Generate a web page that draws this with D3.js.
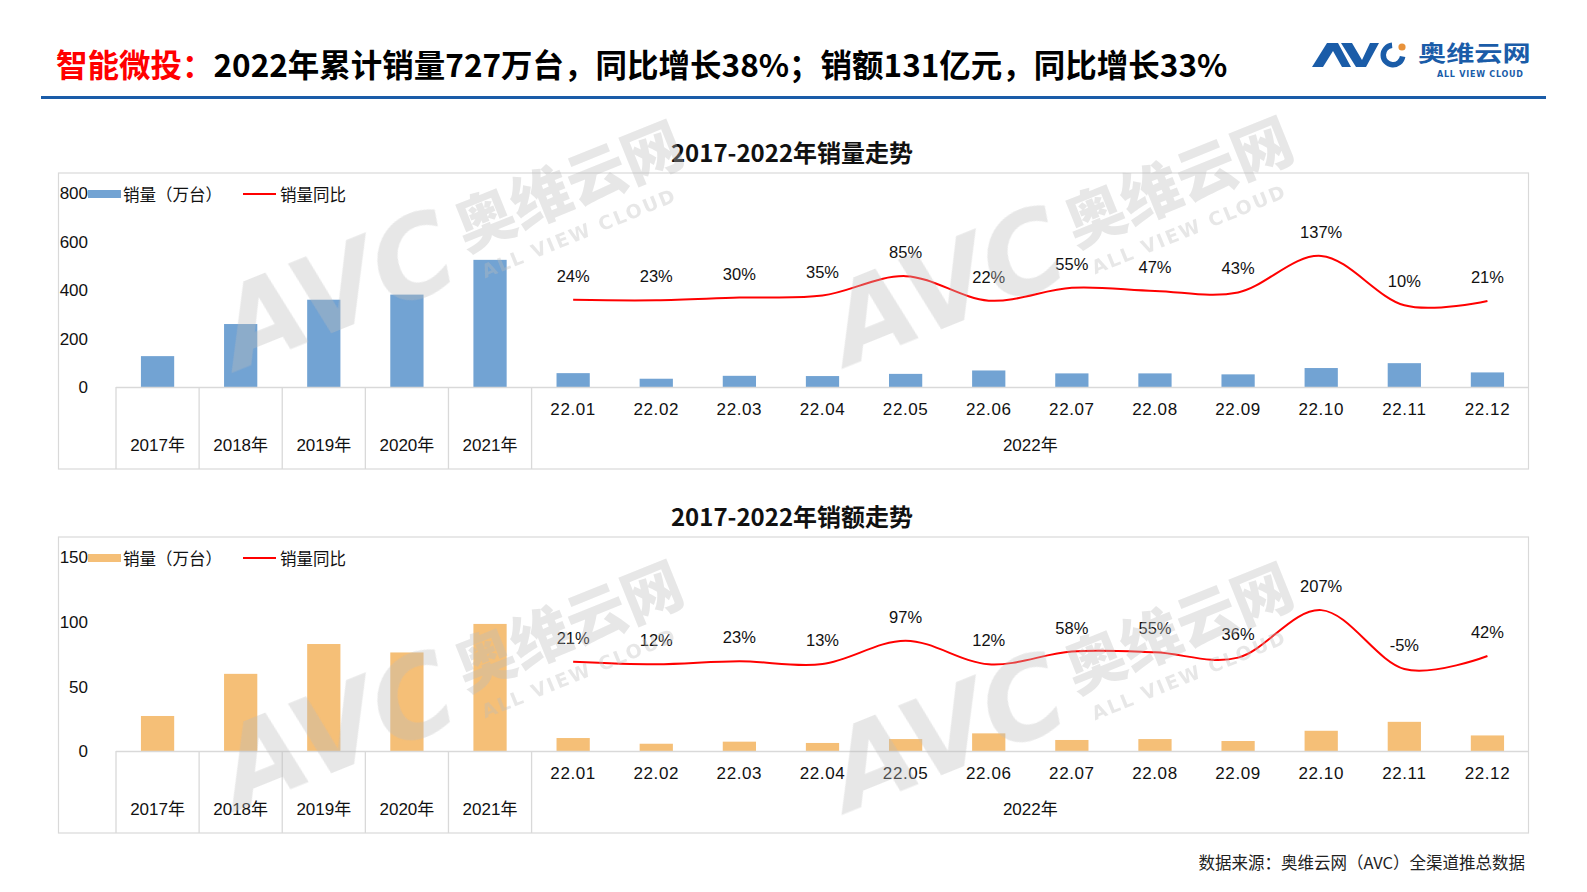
<!DOCTYPE html>
<html><head><meta charset="utf-8">
<script src="https://cdn.jsdelivr.net/npm/d3@7"></script>
<style>body{margin:0;background:#fff}svg{display:block}</style>
</head><body>
<svg id="c" width="1587" height="892"></svg>
<script>
// ---------- data ----------
const categories = ["2017年","2018年","2019年","2020年","2021年","22.01","22.02","22.03","22.04","22.05","22.06","22.07","22.08","22.09","22.10","22.11","22.12"];
const yearCats = ["2017年","2018年","2019年","2020年","2021年"];
const monthCats = ["22.01","22.02","22.03","22.04","22.05","22.06","22.07","22.08","22.09","22.10","22.11","22.12"];
const monthGroupLabel = "2022年";
const volume = [127,259,359,380,523,57,34,46,45,54,68,56,56,52,78,98,60];
const volumeYoY = [24,23,30,35,85,22,55,47,43,137,10,21];
const revenue = [27,59.5,82.5,76,98,10,5.6,7.2,6.2,9.2,13.6,8.5,9.2,7.7,15.6,22.5,12];
const revenueYoY = [21,12,23,13,97,12,58,55,36,207,-5,42];
const volumeTicks = [0,200,400,600,800];
const revenueTicks = [0,50,100,150];
const legendBarLabel = "销量（万台）";
const legendLineLabel = "销量同比";

// ---------- setup ----------
const W = 1587, H = 892;
const FONT = "'Liberation Sans','Noto Sans CJK SC',sans-serif";
const CJK = "'Noto Sans CJK SC','Noto Sans',sans-serif";
const svg = d3.select("#c");
svg.append("rect").attr("width", W).attr("height", H).attr("fill", "#fff");

// ---------- header ----------
const title = svg.append("text").attr("x", 56).attr("y", 63)
  .attr("dominant-baseline", "central").attr("font-family", CJK)
  .attr("font-weight", 700).attr("font-size", 31.5);
title.append("tspan").attr("fill", "#ff0000").text("智能微投：");
title.append("tspan").attr("fill", "#000").text("2022年累计销量727万台，同比增长38%；销额131亿元，同比增长33%");

svg.append("rect").attr("x", 41).attr("y", 96).attr("width", 1505).attr("height", 3).attr("fill", "#1a5ca8");

// logo
const logo = svg.append("g").attr("fill", "#1a5ca8");
logo.append("polygon").attr("points", "1312,67 1327,43 1338,43 1351,67 1342,67 1333,51 1323,67");
logo.append("polygon").attr("points", "1341,43 1352,43 1362,60 1370,43 1379,43 1366,67 1356,67");
logo.append("path").attr("transform", "translate(1393,55)")
  .attr("d", d3.arc().innerRadius(7).outerRadius(12.5).startAngle(Math.PI * 0.55).endAngle(Math.PI * 1.97)());
logo.append("circle").attr("cx", 1402).attr("cy", 47).attr("r", 3.6).attr("fill", "#e8923a");
logo.append("text").attr("transform", "translate(1418,51) scale(1.28,1)").attr("dominant-baseline", "central")
  .attr("font-family", CJK).attr("font-weight", 700).attr("font-size", 22).text("奥维云网");
logo.append("text").attr("x", 1437).attr("y", 74.5).attr("dominant-baseline", "central")
  .attr("font-family", "'DejaVu Sans',sans-serif").attr("font-weight", 700).attr("font-size", 8)
  .attr("textLength", 86).text("ALL VIEW CLOUD");

// ---------- chart ----------
const plotL = 116, plotR = 1529;
const x = d3.scaleBand().domain(categories).range([plotL, plotR]).paddingInner(0).paddingOuter(0);
const bw = x.bandwidth();
const cx = c => x(c) + bw / 2;

function drawChart(o) {
  const g = svg.append("g");
  const boxY = o.boxY, base = boxY + 214, top = boxY + 19.5;
  g.append("rect").attr("x", 58.5).attr("y", boxY).attr("width", 1470).attr("height", 296)
    .attr("fill", "none").attr("stroke", "#d9d9d9").attr("stroke-width", 1.2);
  g.append("text").attr("x", 792).attr("y", boxY - 22).attr("text-anchor", "middle")
    .attr("dominant-baseline", "central").attr("font-family", CJK).attr("font-weight", 700)
    .attr("font-size", 24).attr("fill", "#111").text(o.title);

  const yL = d3.scaleLinear().domain([0, o.yMax]).range([base, top]);
  const yR = d3.scaleLinear().domain(o.yoyDomain).range([base, top]);

  // bars
  g.selectAll("rect.bar").data(categories.map((c, i) => ({ c, v: o.values[i] })))
    .join("rect").attr("class", "bar")
    .attr("x", d => x(d.c) + bw * 0.3).attr("width", bw * 0.4)
    .attr("y", d => yL(d.v)).attr("height", d => base - yL(d.v))
    .attr("fill", o.barColor);

  // axis baseline
  g.append("line").attr("x1", plotL).attr("x2", plotR).attr("y1", base + 0.5).attr("y2", base + 0.5)
    .attr("stroke", "#d9d9d9").attr("stroke-width", 1.3);
  // separators
  const seps = yearCats.map(c => x(c)).concat([x(monthCats[0])]);
  g.selectAll("line.sep").data(seps).join("line").attr("class", "sep")
    .attr("x1", d => d).attr("x2", d => d).attr("y1", base).attr("y2", boxY + 296)
    .attr("stroke", "#d9d9d9").attr("stroke-width", 1.3);

  // y axis
  const ax = g.append("g").attr("transform", "translate(91,0)")
    .call(d3.axisLeft(yL).tickValues(o.ticks).tickSize(0).tickPadding(3));
  ax.select(".domain").remove();
  ax.selectAll("text").attr("font-family", FONT).attr("font-size", 17).attr("fill", "#111")
    .attr("dy", "0.35em");

  // category labels
  g.selectAll("text.yr").data(yearCats).join("text").attr("class", "yr")
    .attr("x", d => cx(d)).attr("y", boxY + 272).attr("text-anchor", "middle")
    .attr("dominant-baseline", "central").attr("font-family", FONT).attr("font-size", 17)
    .attr("fill", "#111").text(d => d);
  g.selectAll("text.mo").data(monthCats).join("text").attr("class", "mo")
    .attr("x", d => cx(d)).attr("y", boxY + 236).attr("text-anchor", "middle")
    .attr("dominant-baseline", "central").attr("font-family", FONT).attr("font-size", 17)
    .attr("letter-spacing", 0.6).attr("fill", "#111").text(d => d);
  g.append("text").attr("x", (x(monthCats[0]) + plotR) / 2).attr("y", boxY + 272)
    .attr("text-anchor", "middle").attr("dominant-baseline", "central")
    .attr("font-family", FONT).attr("font-size", 17).attr("fill", "#111").text(monthGroupLabel);

  // yoy line
  const pts = monthCats.map((c, i) => ({ c, v: o.yoy[i] }));
  g.append("path").datum(pts)
    .attr("d", d3.line().x(d => cx(d.c)).y(d => yR(d.v)).curve(d3.curveCardinal.tension(0)))
    .attr("fill", "none").attr("stroke", "#ff0000").attr("stroke-width", 2);
  g.selectAll("text.pl").data(pts).join("text").attr("class", "pl")
    .attr("x", d => cx(d.c)).attr("y", d => yR(d.v) - 24).attr("text-anchor", "middle")
    .attr("dominant-baseline", "central").attr("font-family", FONT).attr("font-size", 16.5)
    .attr("fill", "#111").text(d => d.v + "%");

  // legend
  const ly = boxY + 21;
  g.append("rect").attr("x", 88).attr("y", ly - 4).attr("width", 33).attr("height", 8).attr("fill", o.barColor);
  g.append("text").attr("x", 123).attr("y", ly).attr("dominant-baseline", "central")
    .attr("font-family", CJK).attr("font-size", 16.5).attr("fill", "#111").text(legendBarLabel);
  g.append("line").attr("x1", 243).attr("x2", 276).attr("y1", ly).attr("y2", ly)
    .attr("stroke", "#ff0000").attr("stroke-width", 2);
  g.append("text").attr("x", 280).attr("y", ly).attr("dominant-baseline", "central")
    .attr("font-family", CJK).attr("font-size", 16.5).attr("fill", "#111").text(legendLineLabel);
}

drawChart({ boxY: 173, title: "2017-2022年销量走势", values: volume, yoy: volumeYoY,
  yMax: 800, ticks: volumeTicks, yoyDomain: [-200, 300], barColor: "#72a3d3" });
drawChart({ boxY: 537, title: "2017-2022年销额走势", values: revenue, yoy: revenueYoY,
  yMax: 150, ticks: revenueTicks, yoyDomain: [-300, 400], barColor: "#f5bf77" });

// ---------- watermarks ----------
function watermark(dx, dy) {
  const g = svg.append("g").attr("transform", `translate(${dx},${dy})`)
    .attr("fill", "#bdbdbd").attr("opacity", 0.36).attr("pointer-events", "none");
  g.append("text").attr("transform", "translate(337,290) rotate(-22)")
    .attr("text-anchor", "middle").attr("dominant-baseline", "central")
    .attr("font-family", "'DejaVu Sans',sans-serif").attr("font-weight", 700).attr("font-style", "italic")
    .attr("font-size", 110).text("AVC");
  g.append("text").attr("transform", "translate(567,182) rotate(-22)")
    .attr("text-anchor", "middle").attr("dominant-baseline", "central")
    .attr("font-family", CJK).attr("font-weight", 900).attr("font-size", 60).text("奥维云网");
  g.append("text").attr("transform", "translate(579,233) rotate(-22)")
    .attr("text-anchor", "middle").attr("dominant-baseline", "central")
    .attr("font-family", "'DejaVu Sans',sans-serif").attr("font-weight", 700).attr("font-size", 19)
    .attr("letter-spacing", 2).text("ALL VIEW CLOUD");
}
watermark(0, 0);
watermark(610, -4);
watermark(0, 440);
watermark(610, 442);

// ---------- source ----------
svg.append("text").attr("x", 1525).attr("y", 862).attr("text-anchor", "end")
  .attr("dominant-baseline", "central").attr("font-family", CJK).attr("font-size", 16.5)
  .attr("fill", "#222").text("数据来源：奥维云网（AVC）全渠道推总数据");
</script>
</body></html>
